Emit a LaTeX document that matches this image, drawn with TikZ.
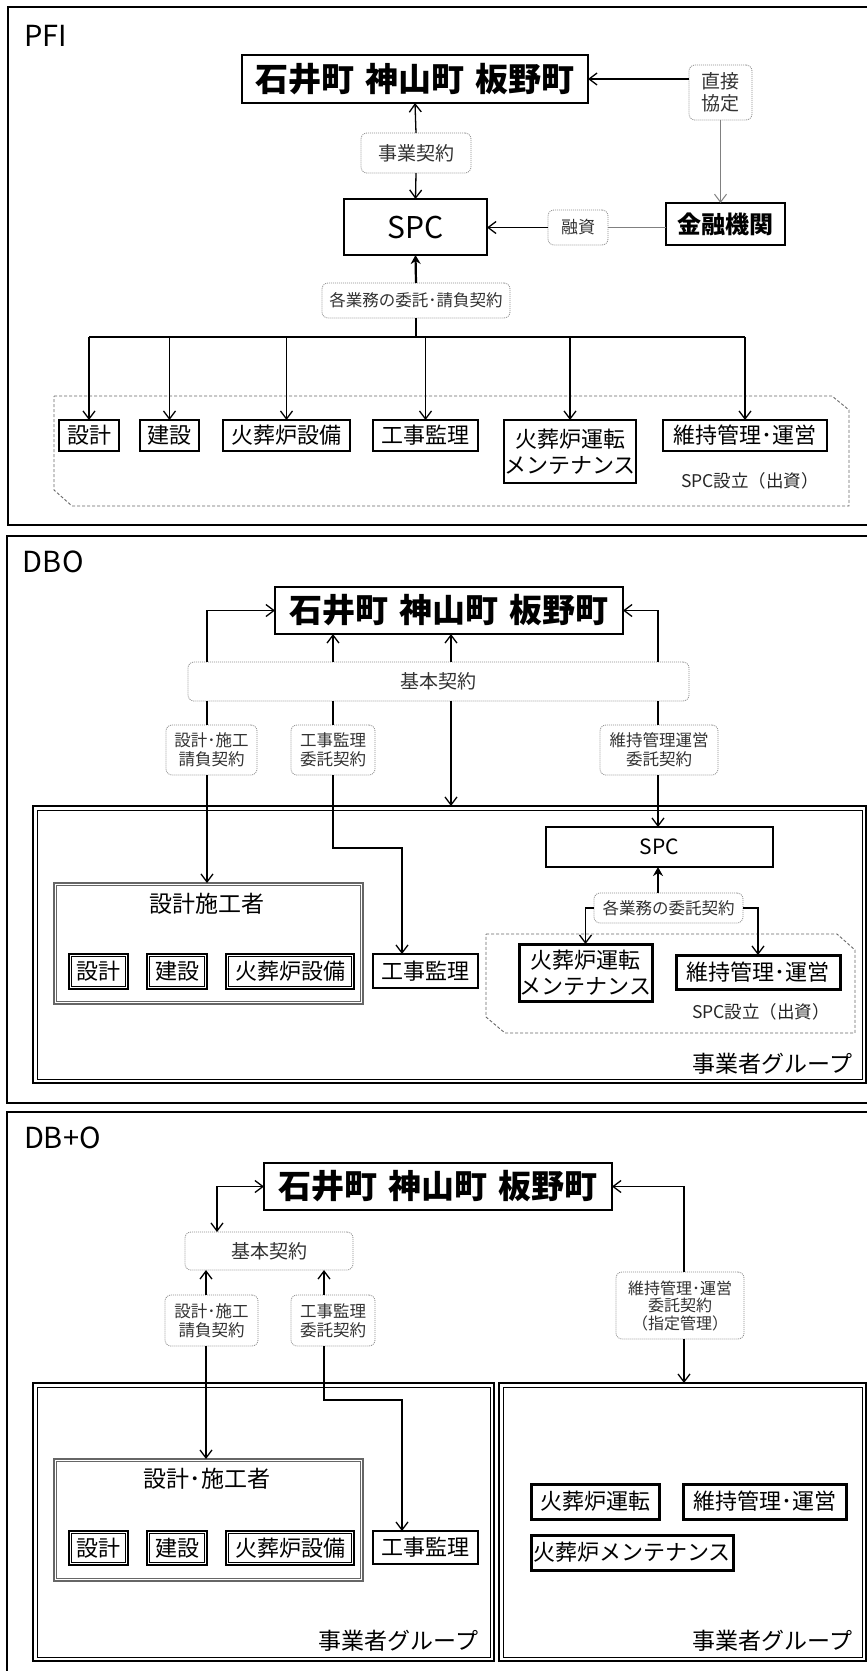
\documentclass[tikz,border=0pt]{standalone}
\usepackage{fontspec}
\setmainfont{Noto Sans CJK JP}
\usetikzlibrary{arrows.meta}
\newcommand\fsz[2]{\fontsize{#1pt}{#2pt}\selectfont}
\begin{document}
\begin{tikzpicture}[x=1pt,y=-1pt,
  every node/.style={inner sep=0pt,outer sep=0pt},
  frame/.style={draw,line width=2pt},
  box/.style={draw,line width=1.8pt,fill=white,align=center,font=\fsz{22}{26}},
  tbox/.style={box,line width=3pt},
  lbl/.style={draw=black!45,dash pattern=on 1pt off 1pt,line width=0.8pt,rounded corners=6pt,fill=white,align=center,text=black!80,font=\fsz{16.5}{19}},
  blbl/.style={lbl,font=\fsz{19}{22}},
  ibox/.style={draw,line width=1.2pt,fill=white,font=\fsz{22}{26},
    path picture={\draw[line width=0.5pt] ([shift={(2.5pt,-2.5pt)}]path picture bounding box.north west) rectangle ([shift={(-2.5pt,2.5pt)}]path picture bounding box.south east);}},
  sbox/.style={draw=black!60,line width=1.6pt,
    path picture={\draw[line width=0.6pt] ([shift={(2.5pt,-2.5pt)}]path picture bounding box.north west) rectangle ([shift={(-2.5pt,2.5pt)}]path picture bounding box.south east);}},
  grp/.style={draw,line width=2.2pt,
    path picture={\draw[line width=0.9pt] ([shift={(4pt,-4pt)}]path picture bounding box.north west) rectangle ([shift={(-4pt,4pt)}]path picture bounding box.south east);}},
  mainbox/.style={draw,line width=1.8pt,fill=white,font=\fsz{33}{36}\bfseries},
  con/.style={line width=1.3pt},
  gcon/.style={line width=1pt,draw=black!50},
  arr/.style={con,-{Straight Barb[length=8pt,width=12pt,line width=1.3pt]}},
  barr/.style={con,{Straight Barb[length=8pt,width=12pt,line width=1.3pt]}-{Straight Barb[length=8pt,width=12pt,line width=1.3pt]}},
  garr/.style={gcon,-{Straight Barb[length=8pt,width=12pt,line width=1pt]}},
  farr/.style={line width=2.2pt,-{Stealth[length=9pt,width=10pt]}},
  spcarea/.style={draw=black!60,line width=0.9pt,dash pattern=on 3pt off 2pt},
  grplbl/.style={anchor=east,font=\fsz{23}{26}},
  sectlbl/.style={anchor=base west,font=\fsz{29}{32}},
  spclbl/.style={font=\fsz{17.5}{20},text=black!85}
]
\useasboundingbox (0,0) rectangle (867,1671);
\clip (0,0) rectangle (867,1671);
\fill[white] (0,0) rectangle (867,1671);

% ================= PFI =================
\draw[frame] (8,7) rectangle (900,525);
\node[sectlbl] (tPFI) at (24,46) {PFI};
\node[mainbox,minimum width=346pt,minimum height=48pt] (m1) at (415,79)
  {石井町\hspace{11pt}神山町\hspace{11pt}板野町};
\node[draw,line width=1.8pt,fill=white,minimum width=143pt,minimum height=56pt,font=\fsz{30}{32}] (spc1) at (415.5,227) {SPC};
\node[draw,line width=1.8pt,fill=white,minimum width=119pt,minimum height=42pt,font=\fsz{24}{27}\bfseries] (kin) at (725.5,224) {金融機関};
\node[blbl,minimum width=63pt,minimum height=55pt] (choku) at (720.5,92.5) {直接\\協定};
\node[blbl,minimum width=110pt,minimum height=40pt] (jig) at (416,153) {事業契約};
\node[blbl,minimum width=60pt,minimum height=35pt,font=\fsz{17}{20}] (yu) at (578,227.5) {融資};
\node[lbl,minimum width=188pt,minimum height=35pt] (kaku1) at (416,300.5) {各業務の委託･請負契約};

\draw[spcarea] (54,396) -- (832,396) -- (849,410) -- (849,506) -- (72,506) -- (54,490) -- cycle;
\node[box,minimum width=60pt,minimum height=31pt] (p1) at (89,435.5) {設計};
\node[box,minimum width=59pt,minimum height=31pt] (p2) at (169.5,435.5) {建設};
\node[box,minimum width=127pt,minimum height=31pt] (p3) at (286.5,435.5) {火葬炉設備};
\node[box,minimum width=105pt,minimum height=31pt] (p4) at (425.5,435.5) {工事監理};
\node[box,minimum width=132pt,minimum height=63pt] (p5) at (570,451.5) {火葬炉運転\\メンテナンス};
\node[box,minimum width=164pt,minimum height=31pt] (p6) at (745,435.5) {維持管理･運営};
\node[spclbl] (spcs1) at (750,481) {SPC設立（出資）};

\coordinate (bus) at (416,337);
\draw[arr] (jig.north) -- (m1.south);
\draw[arr] (jig.south) -- (spc1.north);
\draw[arr] (choku.west |- m1.east) -- (m1.east);
\draw[garr] (choku.south) -- (choku.south |- kin.north);
\draw[gcon] (kin.west |- yu.east) -- (yu.east);
\draw[arr] (yu.west) -- (yu.west -| spc1.east);
\draw[farr] (kaku1.north) -- (spc1.south);
\draw[line width=2pt] (kaku1.south) -- (bus);
\draw[line width=2pt] (p1.north |- bus) -- (p6.north |- bus);
\foreach \n in {p1,p2,p3,p4,p5,p6} {\draw[arr] (\n.north |- bus) -- (\n.north);}

% ================= DBO =================
\draw[frame] (7,536) rectangle (900,1103);
\node[sectlbl] (tDBO) at (23,572) {DBO};
\node[mainbox,minimum width=348pt,minimum height=47pt] (m2) at (449,610.5)
  {石井町\hspace{11pt}神山町\hspace{11pt}板野町};
\node[blbl,minimum width=501pt,minimum height=39pt] (kih2) at (438.5,681.5) {基本契約};
\node[lbl,minimum width=91pt,minimum height=50pt] (l2a) at (211.5,750) {設計･施工\\請負契約};
\node[lbl,minimum width=84pt,minimum height=50pt] (l2b) at (333,750) {工事監理\\委託契約};
\node[lbl,minimum width=118pt,minimum height=50pt] (l2c) at (659,750) {維持管理運営\\委託契約};

\node[grp,minimum width=833pt,minimum height=277pt] (g2) at (449.5,944.5) {};
\node[grplbl] (g2t) at (852,1064) {事業者グループ};
\node[draw,line width=2.5pt,fill=white,minimum width=227pt,minimum height=40pt,font=\fsz{21}{24}] (spc2) at (659.5,847) {SPC};
\node[lbl,minimum width=149pt,minimum height=30pt] (kaku2) at (668.5,908) {各業務の委託契約};
\draw[spcarea] (486,934) -- (837,934) -- (855,950) -- (855,1033) -- (505,1033) -- (486,1017) -- cycle;
\node[tbox,minimum width=133pt,minimum height=57pt] (u2) at (585.5,972.5) {火葬炉運転\\メンテナンス};
\node[tbox,minimum width=164pt,minimum height=34pt] (i2) at (758,972) {維持管理･運営};
\node[spclbl] (spcs2) at (761,1012) {SPC設立（出資）};

\node[sbox,minimum width=309pt,minimum height=121pt] (s2) at (208.5,943.5) {};
\node[font=\fsz{23}{26}] (s2t) at (207,904) {設計施工者};
\node[ibox,minimum width=59pt,minimum height=35pt] (s2a) at (98.5,971.5) {設計};
\node[ibox,minimum width=60pt,minimum height=35pt] (s2b) at (177,971.5) {建設};
\node[ibox,minimum width=128pt,minimum height=35pt] (s2c) at (290,971.5) {火葬炉設備};
\node[box,minimum width=105pt,minimum height=34pt] (k2) at (425.5,971) {工事監理};

\coordinate (dL) at (207,0);
\coordinate (dC) at (333,0);
\coordinate (dM) at (451,0);
\coordinate (dR) at (658,0);
\coordinate (dK) at (402,848);
\draw[arr] (kih2.north -| dL) |- (m2.west);
\draw[arr] (kih2.north -| dR) |- (m2.east);
\draw[arr] (kih2.north -| dC) -- (m2.south -| dC);
\draw[arr] (kih2.north -| dM) -- (m2.south -| dM);
\draw[con] (kih2.south -| dL) -- (l2a.north -| dL);
\draw[arr] (l2a.south -| dL) -- (s2.north -| dL);
\draw[con] (kih2.south -| dC) -- (l2b.north -| dC);
\draw[arr] (l2b.south -| dC) -- (dC |- dK) -| (k2.north -| dK);
\draw[arr] (kih2.south -| dM) -- (g2.north -| dM);
\draw[con] (kih2.south -| dR) -- (l2c.north -| dR);
\draw[arr] (l2c.south -| dR) -- (spc2.north -| dR);
\draw[farr] (kaku2.north -| dR) -- (spc2.south -| dR);
\draw[arr] (kaku2.west) -| (u2.north);
\draw[arr] (kaku2.east) -| (i2.north);

% ================= DB+O =================
\draw[frame] (7,1112) rectangle (900,1700);
\node[sectlbl] (tDBO2) at (24,1148) {DB+O};
\node[mainbox,minimum width=348pt,minimum height=47pt] (m3) at (438,1186.5)
  {石井町\hspace{11pt}神山町\hspace{11pt}板野町};
\node[blbl,minimum width=168pt,minimum height=38pt] (kih3) at (269,1251) {基本契約};
\node[lbl,minimum width=93pt,minimum height=51pt] (l3a) at (211.5,1320.5) {設計･施工\\請負契約};
\node[lbl,minimum width=84pt,minimum height=51pt] (l3b) at (333,1320.5) {工事監理\\委託契約};
\node[lbl,minimum width=128pt,minimum height=67pt,font=\fsz{16}{17.5}] (l3c) at (680,1305.5) {維持管理･運営\\委託契約\\（指定管理）};

\node[grp,minimum width=461pt,minimum height=278pt] (g3L) at (263.5,1522) {};
\node[grp,minimum width=367pt,minimum height=278pt] (g3R) at (682.5,1522) {};
\node[grplbl] (g3Lt) at (478,1641) {事業者グループ};
\node[grplbl] (g3Rt) at (852,1641) {事業者グループ};

\node[sbox,minimum width=309pt,minimum height=122pt] (s3) at (208.5,1520) {};
\node[font=\fsz{23}{26}] (s3t) at (207,1479) {設計･施工者};
\node[ibox,minimum width=59pt,minimum height=34pt] (s3a) at (98.5,1548) {設計};
\node[ibox,minimum width=60pt,minimum height=34pt] (s3b) at (177,1548) {建設};
\node[ibox,minimum width=128pt,minimum height=34pt] (s3c) at (290,1548) {火葬炉設備};
\node[box,minimum width=105pt,minimum height=33pt] (k3) at (425.5,1547.5) {工事監理};

\node[tbox,minimum width=128pt,minimum height=35pt] (u3) at (595,1501.5) {火葬炉運転};
\node[tbox,minimum width=163pt,minimum height=35pt] (i3) at (764.5,1501.5) {維持管理･運営};
\node[tbox,minimum width=202pt,minimum height=35pt] (n3) at (632,1552.5) {火葬炉メンテナンス};

\coordinate (eL) at (217,0);
\coordinate (eA) at (206,0);
\coordinate (eB) at (324,0);
\coordinate (eR) at (684,0);
\coordinate (eK) at (402,1400);
\draw[barr] (m3.west) -| (kih3.north -| eL);
\draw[arr] (l3a.north -| eA) -- (kih3.south -| eA);
\draw[arr] (l3b.north -| eB) -- (kih3.south -| eB);
\draw[arr] (l3c.north -| eR) |- (m3.east);
\draw[arr] (l3c.south -| eR) -- (g3R.north -| eR);
\draw[arr] (l3a.south -| eA) -- (s3.north -| eA);
\draw[arr] (l3b.south -| eB) -- (eB |- eK) -| (k3.north -| eK);
\end{tikzpicture}
\end{document}
